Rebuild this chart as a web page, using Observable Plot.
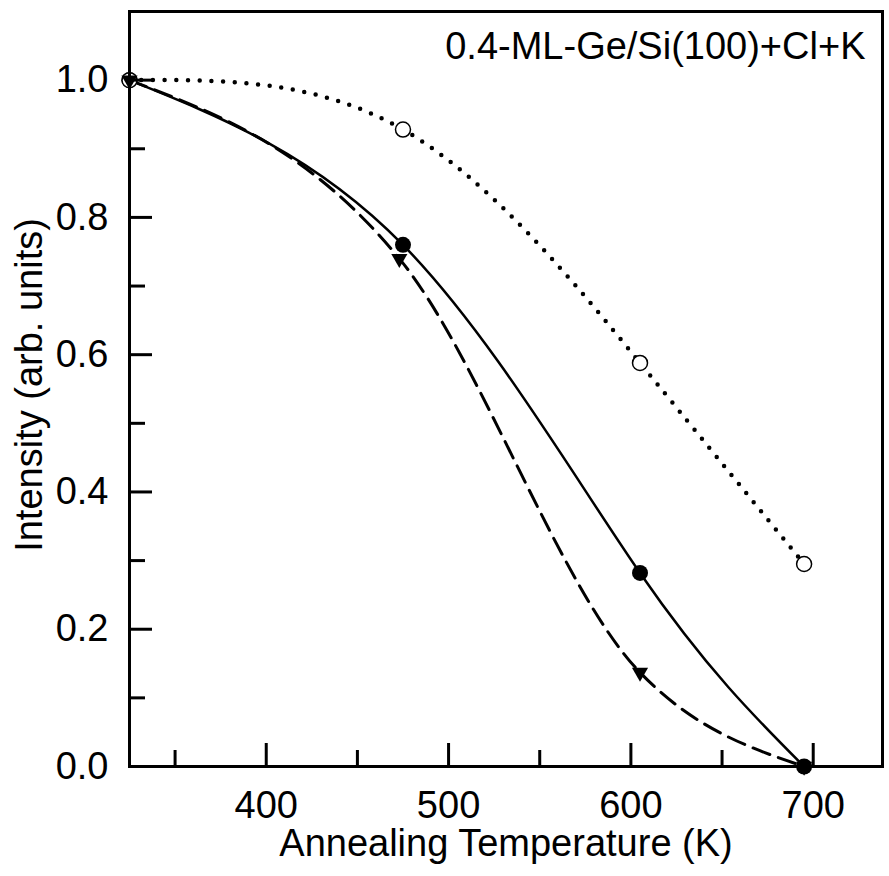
<!DOCTYPE html>
<html><head><meta charset="utf-8">
<script src="https://cdn.jsdelivr.net/npm/d3@7"></script>
<script src="https://cdn.jsdelivr.net/npm/@observablehq/plot@0.6"></script>
<style>body{margin:0;background:#fff}</style>
</head><body><div id="chart"></div>
<script>
// Data
const solidTemps = [325, 475, 605, 695];
const solidVals = [1.0, 0.760, 0.282, 0.0];
const dashTemps = [325, 473, 605, 695];
const dashVals = [1.0, 0.740, 0.137, 0.0];
const dotTemps = [325, 475, 605, 695];
const dotVals = [1.0, 0.928, 0.588, 0.295];
const xMajorTicks = [400, 500, 600, 700];
const xMinorTicks = [350, 450, 550, 650];
const yMajorTicks = [0, 0.2, 0.4, 0.6, 0.8, 1.0];
const yMinorTicks = [0.1, 0.3, 0.5, 0.7, 0.9];
const sampleLabel = "0.4-ML-Ge/Si(100)+Cl+K";
const xTitle = "Annealing Temperature (K)";
const yTitle = "Intensity (arb. units)";

const solid = solidTemps.map((t, i) => ({t, v: solidVals[i]}));
const dashed = dashTemps.map((t, i) => ({t, v: dashVals[i]}));
const dotted = dotTemps.map((t, i) => ({t, v: dotVals[i]}));

const W = 889, H = 876, mL = 129, mR = 7, mT = 11, mB = 110;
const fw = W - mL - mR, fh = H - mT - mB;
const majLen = 23, minLen = 16;
const FS = 38;

const chart = Plot.plot({
  width: W, height: H,
  marginLeft: mL, marginRight: mR, marginTop: mT, marginBottom: mB,
  style: {fontFamily: "'Liberation Sans', Arial, Helvetica, sans-serif", fontSize: FS + "px", background: "white", color: "black"},
  x: {domain: [325, 738]},
  y: {domain: [0, 1.1]},
  marks: [
    Plot.line(solid, {x: "t", y: "v", curve: "natural", stroke: "black", strokeWidth: 2.5}),
    Plot.line(dashed, {x: "t", y: "v", curve: "monotone-x", stroke: "black", strokeWidth: 3, strokeDasharray: "18,9"}),
    Plot.line(dotted, {x: "t", y: "v", curve: "natural", stroke: "black", strokeWidth: 4.5, strokeDasharray: "0,11.7", strokeLinecap: "round"}),
    Plot.dot(solid, {x: "t", y: "v", r: 8, fill: "black", stroke: "none"}),
    Plot.dot(dotted, {x: "t", y: "v", r: 7.5, fill: "white", stroke: "black", strokeWidth: 1.5}),
    Plot.dot(dashed, {x: "t", y: "v", symbol: "triangle", rotate: 180, r: 6, fill: "black", stroke: "none"}),
    Plot.tickX(xMajorTicks, {x: d => d, insetTop: fh - majLen, stroke: "black", strokeWidth: 3}),
    Plot.tickX(xMinorTicks, {x: d => d, insetTop: fh - minLen, stroke: "black", strokeWidth: 3}),
    Plot.tickY(yMajorTicks, {y: d => d, insetRight: fw - majLen, stroke: "black", strokeWidth: 3}),
    Plot.tickY(yMinorTicks, {y: d => d, insetRight: fw - minLen, stroke: "black", strokeWidth: 3}),
    Plot.axisX(xMajorTicks, {tickSize: 0, tickPadding: 25, label: null, fontSize: FS}),
    Plot.axisY(yMajorTicks, {tickSize: 0, tickPadding: 21, label: null, tickFormat: d3.format(".1f"), fontSize: FS}),
    Plot.text([xTitle], {frameAnchor: "bottom", dy: 63, lineAnchor: "top", textAnchor: "middle", fontSize: FS, text: d => d}),
    Plot.text([yTitle], {frameAnchor: "left", dx: -88, dy: -4, rotate: -90, lineAnchor: "bottom", textAnchor: "middle", fontSize: FS, text: d => d}),
    Plot.text([sampleLabel], {frameAnchor: "top-right", dx: -17, dy: 21, lineAnchor: "top", textAnchor: "end", fontSize: FS, text: d => d}),
    Plot.frame({stroke: "black", strokeWidth: 3})
  ]
});
document.getElementById("chart").appendChild(chart);
</script>
</body></html>
